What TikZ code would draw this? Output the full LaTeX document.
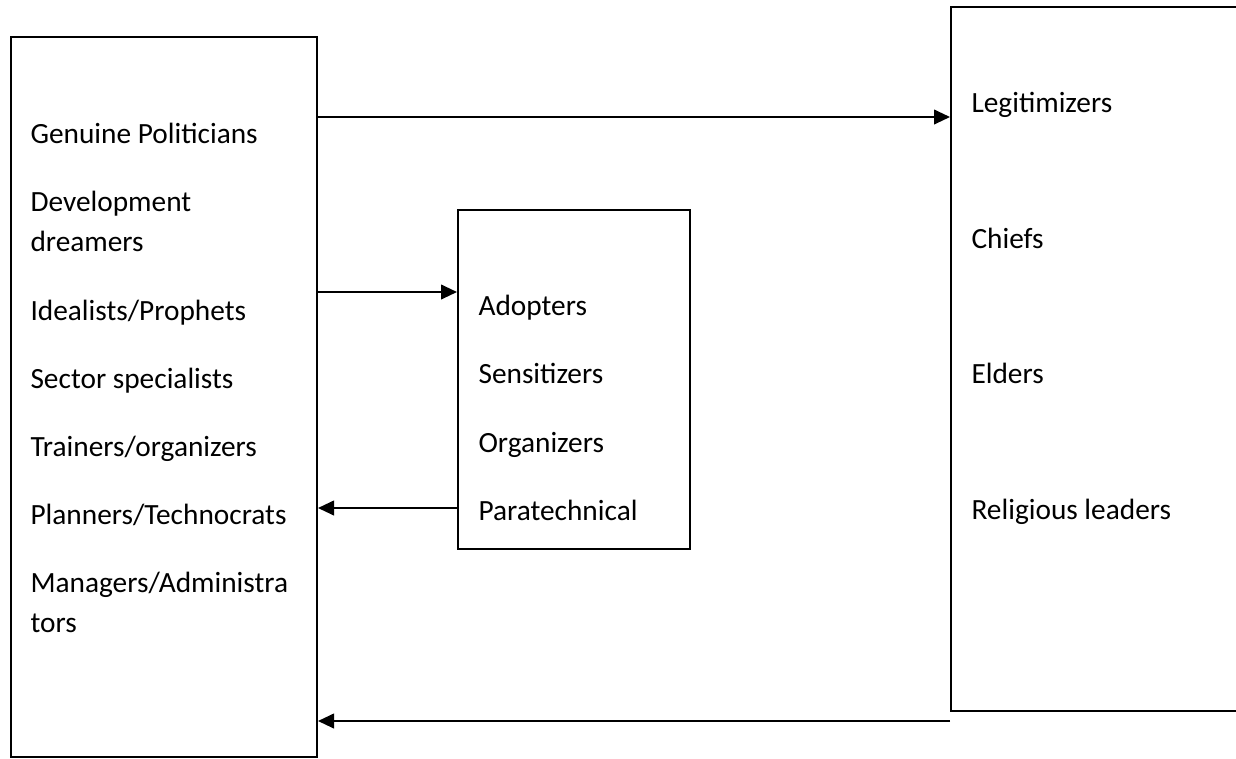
\documentclass[tikz,border=0pt]{standalone}
\usepackage{fontspec}
\setmainfont{Carlito}
\usepackage{tikz}
\usetikzlibrary{arrows.meta,positioning,calc}

\begin{document}
\begin{tikzpicture}[
      x=0.375pt, y=-0.375pt, % 1 unidade = 1 pixel da figura
      every node/.style={font=\fontsize{11pt}{13pt}\selectfont},
      box/.style={rectangle, draw, line width=0.75pt, inner sep=0pt, anchor=north west},
      item/.style={anchor=base west, inner sep=0pt},
      link/.style={-{Triangle[length=6pt,width=5.5pt]}, line width=0.75pt},
  ]
      \useasboundingbox (0,0) rectangle (1236,758);
      \clip (0,0) rectangle (1236,758);

      % --- CAIXAS ---
      \node[box, minimum width=114.75pt, minimum height=270pt] (leftbox) at (10,36) {};
      \node[box, minimum width=87pt, minimum height=127pt] (midbox) at (457,209) {};
      \node[box, minimum width=135pt, minimum height=264pt] (rightbox) at (950,6) {};

      % --- ATORES (esquerda) ---
      \node[item] (genuine) at (30,143) {Genuine Politicians};
      \node[item] (devel) at (30,211) {Development};
      \node[item] (dream) at (30,251) {dreamers};
      \node[item] (ideal) at (30,320) {Idealists/Prophets};
      \node[item] (sector) at (30,388) {Sector specialists};
      \node[item] (trainers) at (30,456) {Trainers/organizers};
      \node[item] (planners) at (30,524) {Planners/Technocrats};
      \node[item] (managers) at (30,592) {Managers/Administra};
      \node[item] (tors) at (30,632) {tors};

      % --- INTERMEDIARIOS (centro) ---
      \node[item] (adopters) at (478,315) {Adopters};
      \node[item] (sensit) at (478,383) {Sensitizers};
      \node[item] (organiz) at (478,452) {Organizers};
      \node[item] (paratech) at (478,520) {Paratechnical};

      % --- LIDERES LOCAIS (direita) ---
      \node[item] (legit) at (971,112) {Legitimizers};
      \node[item] (chiefs) at (971,248) {Chiefs};
      \node[item] (elders) at (971,383) {Elders};
      \node[item] (relig) at (971,519) {Religious leaders};

      % Niveis das setas
      \coordinate (y1) at (0,117);
      \coordinate (y2) at (0,292);
      \coordinate (y3) at (0,508);
      \coordinate (y4) at (0,721);

      % --- CONEXOES ---
      \draw[link] (leftbox.east |- y1) -- (rightbox.west |- y1);
      \draw[link] (leftbox.east |- y2) -- (midbox.west |- y2);
      \draw[link] (midbox.west |- y3) -- (leftbox.east |- y3);
      \draw[link] (rightbox.south west |- y4) -- (leftbox.east |- y4);

  \end{tikzpicture}
\end{document}
